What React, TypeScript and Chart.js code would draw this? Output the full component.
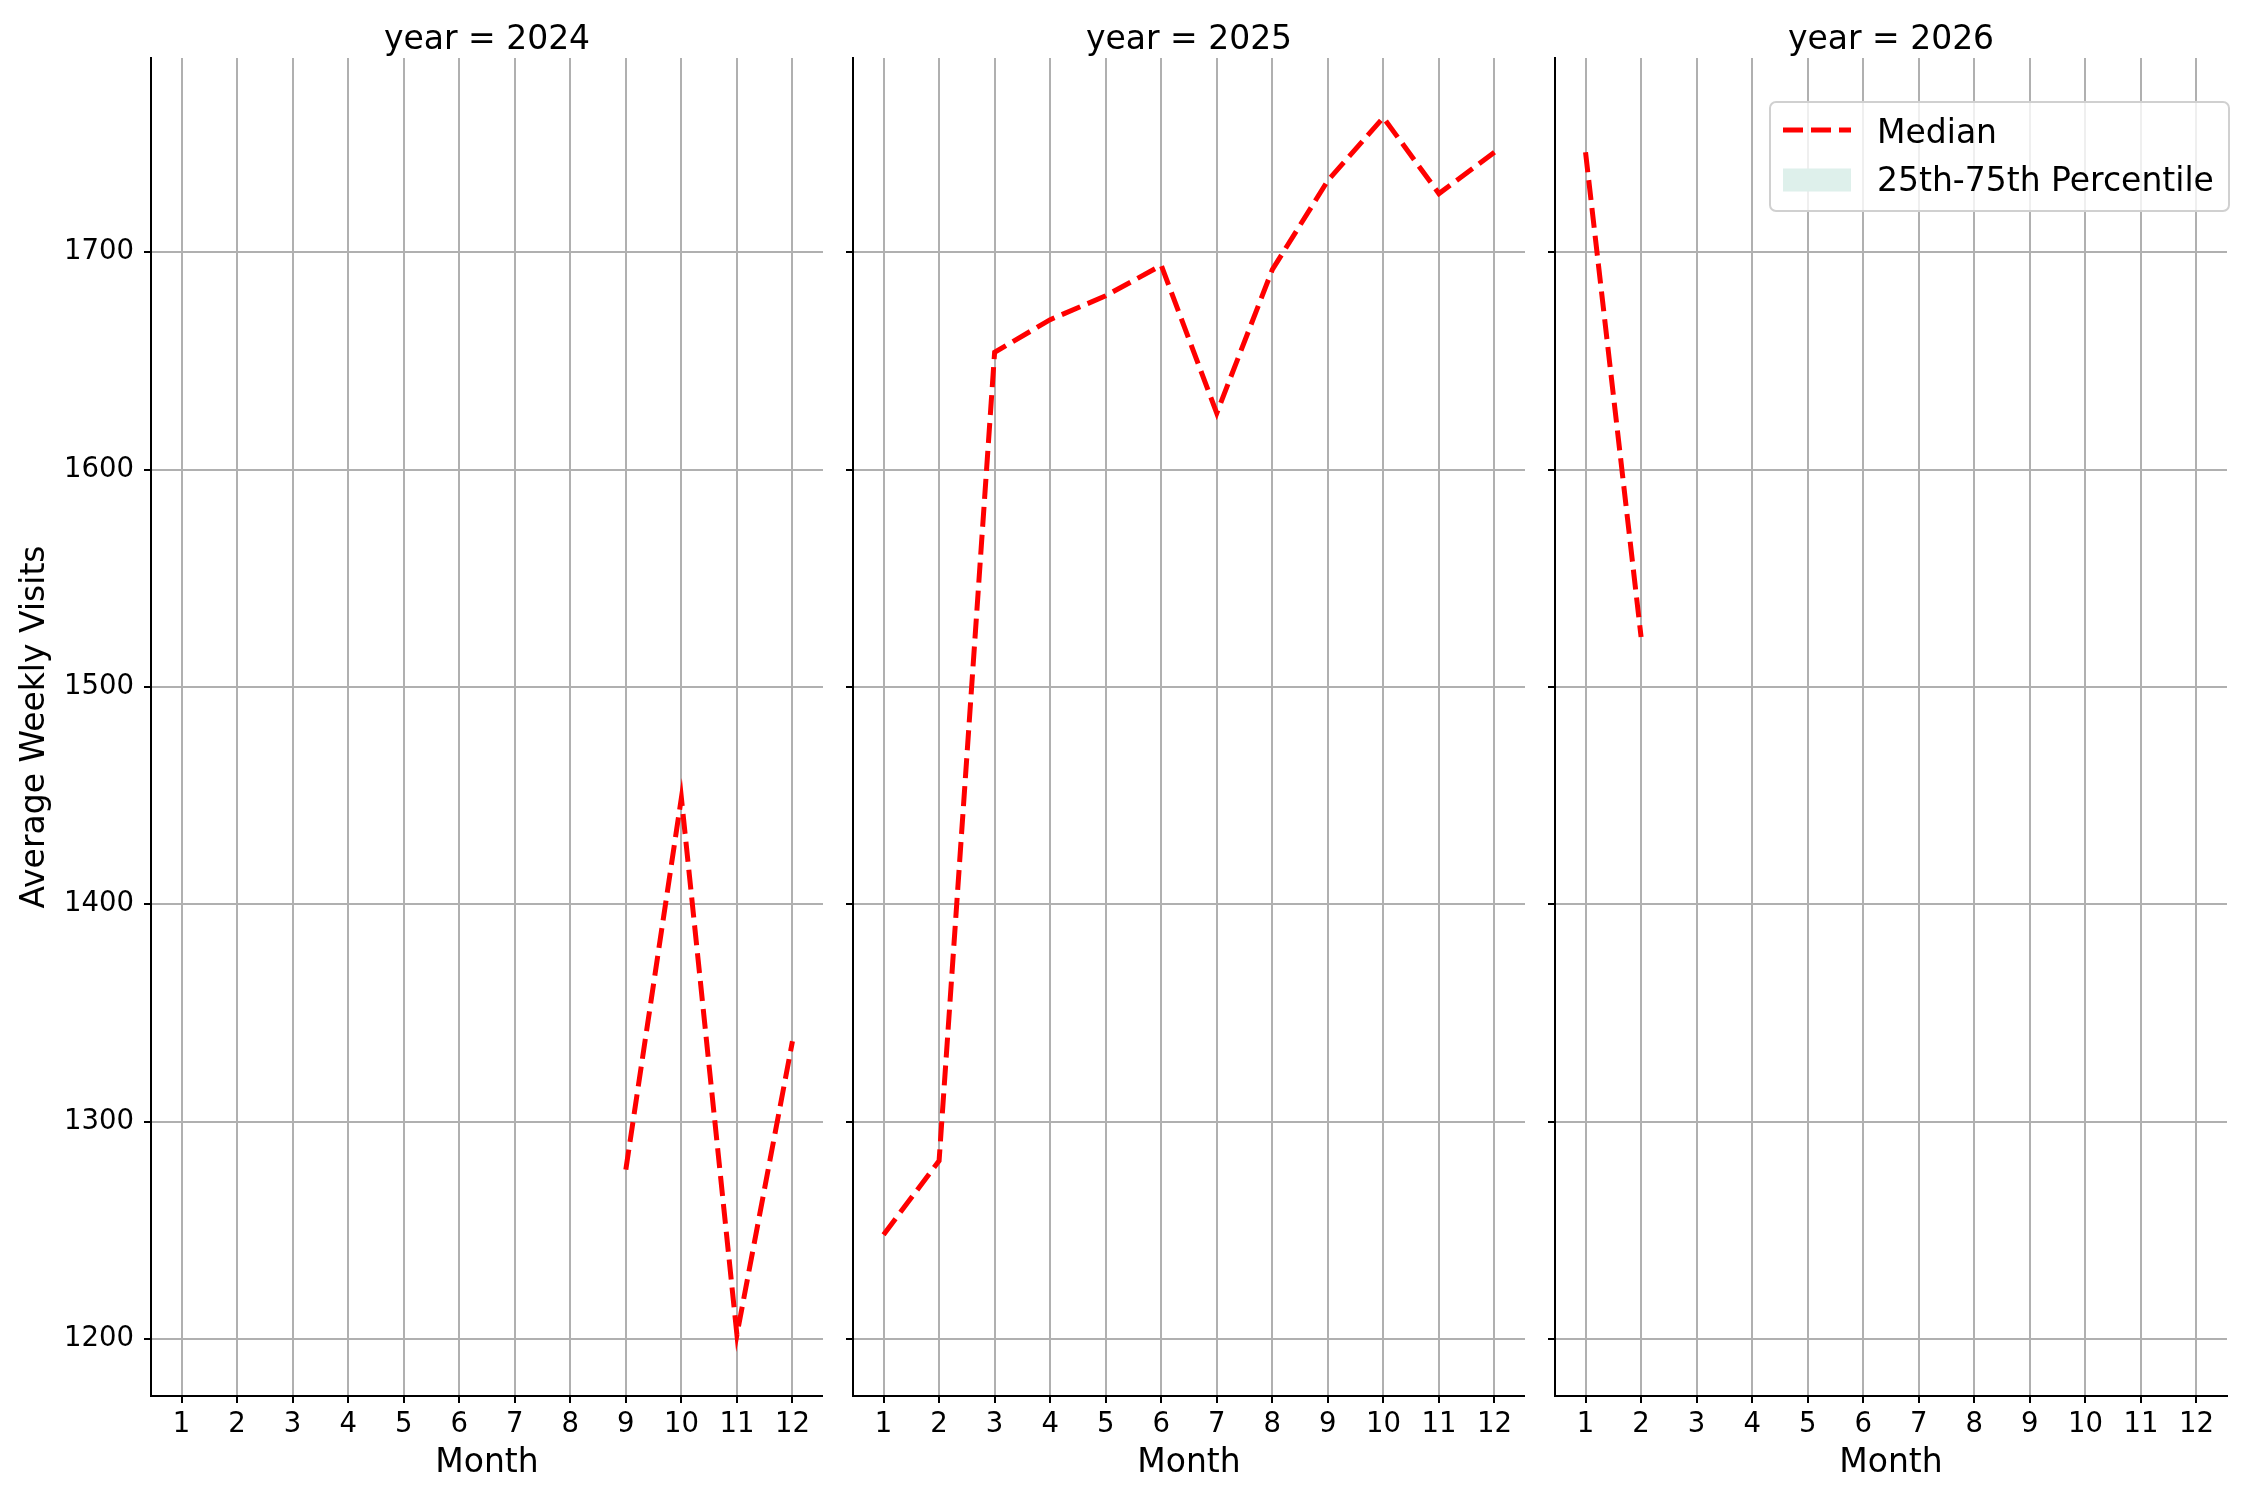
import { useEffect, useRef } from "react"
import Chart from "chart.js/auto"

// data
const months = [1, 2, 3, 4, 5, 6, 7, 8, 9, 10, 11, 12]
const yTicks = [1200, 1300, 1400, 1500, 1600, 1700]
const years = ["2024", "2025", "2026"]

const median2024 = [null, null, null, null, null, null, null, null, 1278, 1449, 1202, 1337]
const median2025 = [1248, 1282, 1654, 1669, 1680, 1694, 1626, 1692, 1733, 1762, 1727, 1746]
const median2026 = [1746, 1523, null, null, null, null, null, null, null, null, null, null]

const medianByYear = [median2024, median2025, median2026]

const X_MIN = 0.45
const X_MAX = 12.55
const Y_MIN = 1173.8
const Y_MAX = 1789.4

const FONT = "DejaVu Sans"
const MEDIAN_COLOR = "#ff0000"
const BAND_COLOR = "#def0eb"

Chart.defaults.font.family = FONT
Chart.defaults.color = "#000"

// framed legend in the top-right corner, like matplotlib
const boxLegend = {
  id: "boxLegend",
  afterDraw(chart: any) {
    const { ctx, chartArea } = chart
    const w = 459
    const h = 109
    const left = chartArea.right - 457
    const top = chartArea.top + 44
    ctx.save()
    ctx.beginPath()
    ctx.roundRect(left, top, w, h, 6)
    ctx.fillStyle = "rgba(255,255,255,0.8)"
    ctx.fill()
    ctx.lineWidth = 2
    ctx.strokeStyle = "#d0d0d0"
    ctx.stroke()

    ctx.font = `33px '${FONT}'`
    ctx.textBaseline = "middle"
    ctx.textAlign = "left"
    chart.data.datasets.forEach((ds: any, i: number) => {
      const rowY = top + 28 + i * 48.5
      if (ds.fill) {
        ctx.fillStyle = ds.backgroundColor
        ctx.fillRect(left + 13, rowY - 10, 68, 23)
      } else {
        ctx.beginPath()
        ctx.setLineDash(ds.borderDash || [])
        ctx.lineWidth = ds.borderWidth
        ctx.strokeStyle = ds.borderColor
        ctx.moveTo(left + 13, rowY)
        ctx.lineTo(left + 81, rowY)
        ctx.stroke()
        ctx.setLineDash([])
      }
      ctx.fillStyle = "#000"
      ctx.fillText(ds.label, left + 107, rowY + 4)
    })
    ctx.restore()
  },
}

interface PanelProps {
  index: number
  left: number
  yAxisWidth: number
  width: number
  padRight: number
}

function Panel({ index, left, yAxisWidth, width, padRight }: PanelProps) {
  const chartRef = useRef<HTMLCanvasElement>(null)
  const chartInstance = useRef<Chart | null>(null)

  useEffect(() => {
    if (!chartRef.current) return
    if (chartInstance.current) chartInstance.current.destroy()

    const first = index === 0
    const values = medianByYear[index]
    const points = months
      .map((m, i) => ({ x: m, y: values[i] }))
      .filter((p) => p.y !== null)

    chartInstance.current = new Chart(chartRef.current, {
      type: "line",
      data: {
        datasets: [
          {
            label: "Median",
            data: points as any,
            borderColor: MEDIAN_COLOR,
            borderWidth: 5,
            borderDash: [20, 8],
            pointRadius: 0,
            tension: 0,
            fill: false,
          },
          {
            label: "25th-75th Percentile",
            data: [],
            backgroundColor: BAND_COLOR,
            borderWidth: 0,
            pointRadius: 0,
            fill: true,
          },
        ],
      },
      options: {
        responsive: false,
        animation: false,
        devicePixelRatio: 1,
        layout: { padding: { left: 0, right: padRight, top: 0, bottom: 0 } },
        plugins: {
          legend: { display: false },
          tooltip: { enabled: false },
          title: {
            display: true,
            fullSize: false,
            text: `year = ${years[index]}`,
            color: "#000",
            font: { size: 33, weight: "normal", lineHeight: 1 },
            padding: { top: 23.5, bottom: 1.5 },
          },
        },
        scales: {
          x: {
            type: "linear",
            min: X_MIN,
            max: X_MAX,
            afterBuildTicks: (s: any) => {
              s.ticks = months.map((v) => ({ value: v }))
            },
            afterFit: (s: any) => {
              s.height = 104
            },
            ticks: {
              color: "#000",
              font: { size: 27.5 },
              padding: 5,
              autoSkip: false,
              maxRotation: 0,
              callback: (v: any) => String(v),
            },
            grid: {
              color: "#b0b0b0",
              lineWidth: 2,
              tickColor: "#000",
              tickLength: 7,
              tickWidth: 2,
            },
            border: { display: true, color: "#000", width: 2 },
            title: {
              display: true,
              text: "Month",
              color: "#000",
              font: { size: 33 },
              padding: 17,
            },
          },
          y: {
            type: "linear",
            min: Y_MIN,
            max: Y_MAX,
            afterBuildTicks: (s: any) => {
              s.ticks = yTicks.map((v) => ({ value: v }))
            },
            afterFit: (s: any) => {
              s.width = yAxisWidth
            },
            ticks: {
              display: first,
              color: "#000",
              font: { size: 27.5 },
              padding: 10,
              callback: (v: any) => String(v),
            },
            grid: {
              color: "#b0b0b0",
              lineWidth: 2,
              tickColor: "#000",
              tickLength: 7,
              tickWidth: 2,
            },
            border: { display: true, color: "#000", width: 2 },
            title: {
              display: first,
              text: "Average Weekly Visits",
              color: "#000",
              font: { size: 33 },
              padding: 16,
            },
          },
        },
      },
      plugins: index === 2 ? [boxLegend] : [],
    })

    return () => {
      if (chartInstance.current) {
        chartInstance.current.destroy()
        chartInstance.current = null
      }
    }
  }, [index, yAxisWidth, padRight])

  return (
    <canvas
      ref={chartRef}
      width={width}
      height={1500}
      style={{ position: "absolute", left, top: 0, width, height: 1500 }}
    />
  )
}

export default function App() {
  const panelWidth = 672
  return (
    <div
      style={{
        position: "fixed",
        left: 0,
        top: 0,
        width: 2250,
        height: 1500,
        background: "#fff",
        overflow: "hidden",
      }}
    >
      <Panel index={0} left={0} yAxisWidth={151} width={151 + panelWidth} padRight={0} />
      <Panel index={1} left={833} yAxisWidth={20} width={20 + panelWidth} padRight={0} />
      <Panel index={2} left={1535} yAxisWidth={20} width={20 + panelWidth + 10} padRight={10} />
    </div>
  )
}
